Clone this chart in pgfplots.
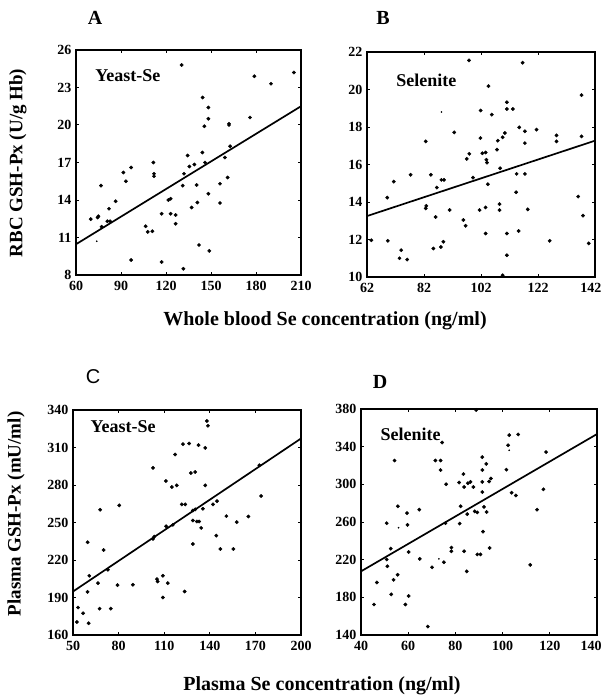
\documentclass[border=0pt]{standalone}
\usepackage{fontspec}
\setmainfont{Liberation Serif}
\newfontfamily\sansf{Liberation Sans}
\usepackage{pgfplots}
\pgfplotsset{compat=1.18}

\pgfplotsset{
  panel/.style={
    scale only axis, anchor=south west,
    axis line style={line width=1.5pt},
    tick align=inside, major tick length=3pt,
    tick style={line width=1pt,black},
    tick label style={font=\fontsize{14}{14}\selectfont\bfseries},
    xticklabel style={yshift=-3pt},
    yticklabel style={xshift=-1pt},
    /pgf/number format/assume math mode=true,
    scaled ticks=false, clip=false,
  },
  dots/.style={only marks, mark=*, mark size=1.7pt, color=black},
  fit/.style={no marks, line width=1.7pt, color=black},
}

\begin{document}
\begin{tikzpicture}
\useasboundingbox (0,0) rectangle (605pt,-698pt);

% A: RBC GSH-Px vs whole blood Se, yeast-Se
\begin{axis}[panel, at={(76pt,-275pt)}, width=225pt, height=225pt,
  xmin=60, xmax=210, ymin=8, ymax=26,
  xtick={60,90,...,210}, ytick={8,11,...,26}]
\addplot[dots] coordinates {
(69.8,12.47)(74.4,12.6)(74.9,12.7)(76.7,15.15)(77.1,11.86)(82,13.3)(80.9,12.3)(82.7,12.3)
(86.4,13.9)(91.6,16.2)(93.3,15.5)(96.7,16.6)(96.7,9.2)(106.4,11.9)(107.8,11.45)(110.9,11.5)
(111.6,17.0)(112,16.1)(112,15.9)(117.1,12.9)(117.1,9.04)(121.6,14.0)(123.1,14.1)(123.1,12.9)
(126.4,12.8)(126.4,12.1)(130.4,24.8)(131.1,15.15)(132,16.1)(131.6,8.5)(134.4,17.56)(135.6,16.68)
(138.9,16.84)(137.1,13.4)(140.4,15.2)(140.9,13.8)(142,10.4)(144.2,17.8)(144.4,22.2)(145.6,19.9)
(146,17.0)(148.2,21.4)(148.2,20.5)(148.2,14.5)(148.9,9.93)(156,13.76)(156,15.3)(159.3,17.4)
(161.1,15.8)(162,20.1)(162,20.0)(162.7,18.3)(176,20.6)(178.9,23.9)(190,23.3)(205.3,24.2)};
\addplot[only marks, mark=*, mark size=0.6pt] coordinates {(73.8,10.7)};
\addplot[fit] coordinates {(60,10.46)(210,21.5)};
\node[font=\fontsize{18}{18}\selectfont\bfseries] at (rel axis cs:0.23,0.885) {Yeast-Se};
\end{axis}

% B: selenite
\begin{axis}[panel, at={(367pt,-277pt)}, width=228pt, height=225pt,
  xmin=62, xmax=142, ymin=10, ymax=22,
  xtick={62,82,...,142}, ytick={10,12,...,22},
  xticklabels={62,82,102,122,{\hspace*{-8pt}142}}]
\addplot[dots] coordinates {
(63.5,11.96)(69.1,14.23)(69.3,11.93)(71.4,15.09)(73.4,11.0)(74,11.43)(76.1,10.93)(77.3,15.45)
(82.6,17.23)(82.6,13.66)(82.8,13.79)(84.4,15.45)(85.3,11.52)(86.1,13.2)(86.5,14.77)(87.9,11.6)
(88.1,15.18)(89,15.18)(88.8,11.88)(91,13.57)(92.6,17.71)(95.8,13.04)(96.6,12.73)(97,16.3)
(97.9,16.57)(97.8,21.55)(99.2,15.3)(101.5,13.57)(101.8,17.41)(101.9,18.88)(102.5,16.6)(103.6,16.64)
(103.9,16.25)(104.1,16.1)(103.6,13.71)(103.6,12.32)(104.4,14.95)(104.6,20.18)(105.8,18.66)(107.6,16.79)
(107.9,17.27)(108.7,15.8)(108.5,13.89)(108.5,13.57)(109.6,17.45)(110.4,17.68)(109.6,10.09)(111.1,19.32)
(111.1,18.96)(113.2,18.96)(111.1,12.32)(111.1,11.16)(114.3,14.52)(114.5,15.5)(115.2,12.45)(115.4,17.98)
(116.6,21.43)(117.4,17.77)(117.4,17.14)(117.4,15.5)(118.4,13.61)(121.5,17.86)(126.1,11.93)(128.5,17.55)
(128.5,17.23)(136.1,14.29)(137.3,19.7)(137.3,17.5)(137.8,13.27)(139.8,11.79)};
\addplot[only marks, mark=*, mark size=0.6pt] coordinates {(88.1,18.8)};
\addplot[fit] coordinates {(62,13.25)(142,17.27)};
\node[font=\fontsize{18}{18}\selectfont\bfseries] at (rel axis cs:0.26,0.876) {Selenite};
\end{axis}

% C: plasma GSH-Px vs plasma Se, yeast-Se
\begin{axis}[panel, at={(73pt,-635pt)}, width=228pt, height=225pt,
  xmin=50, xmax=200, ymin=160, ymax=340,
  xtick={50,80,...,200}, ytick={160,190,...,340}]
\addplot[dots] coordinates {
(53.3,182)(52.6,170.4)(56.6,177.4)(59.6,234.2)(59.6,194.5)(60.3,169.4)(60.7,207.4)(66.4,201.5)
(67.9,260.2)(67.5,181.1)(70.1,228)(72.9,212.2)(74.9,181.1)(79.3,199.9)(80.4,263.7)(89.4,200.2)
(102.6,236.9)(102.6,293.7)(103.5,238.7)(105.2,204.7)(105.7,202.8)(109.1,207.4)(109.1,190)(111.1,283.2)
(111.3,247)(112.4,201.5)(115,278.4)(115.7,248.1)(118.3,279.7)(117.2,304.4)(121.6,264.5)(123.8,264.5)
(123.4,194.8)(122.3,312.7)(126.4,313.2)(127.5,289.6)(130.4,290.4)(128.9,259.6)(128.9,251.6)(128.9,232.8)
(130.4,260.5)(131.5,250.8)(133,250.8)(132.6,311.9)(134.3,245.7)(135.4,261)(137,309.7)(137,279.7)
(138.1,331.2)(138.8,327.4)(142.1,264.5)(144.7,267.1)(144.3,239.5)(146.9,228.8)(150.9,255.1)(155.5,228.8)
(157.7,250.3)(165.4,254.8)(172.6,295.8)(173.7,271.2)};
\addplot[fit] coordinates {(50,194.8)(200,317.2)};
\node[font=\fontsize{18}{18}\selectfont\bfseries] at (rel axis cs:0.22,0.924) {Yeast-Se};
\end{axis}

% D: selenite
\begin{axis}[panel, at={(361pt,-635pt)}, width=236pt, height=226pt,
  xmin=40, xmax=140, ymin=140, ymax=380,
  xtick={40,60,...,140}, ytick={140,180,...,380},
  xticklabels={40,60,80,100,120,{\hspace*{-12pt}140}}]
\addplot[dots] coordinates {
(45.5,172.4)(46.7,195.8)(50.9,258.7)(50.9,220.2)(51.2,213)(52.6,231.7)(52.8,183.2)(53.8,198.6)
(54.2,325.3)(55.5,204)(55.6,276.7)(58.8,172.4)(59.5,269.5)(59.7,256.9)(60.2,181.4)(60.2,228.1)
(64.7,273.1)(64.9,220.9)(68.3,149)(70.1,211.9)(71.5,325.3)(73.7,325.3)(73.7,315.2)(74.4,344.4)
(75.1,217.3)(76.1,300.1)(75.8,258.7)(78.3,232.8)(78.3,228.9)(81.6,301.9)(81.8,258.3)(82.2,276.7)
(83.4,310.9)(83.7,297.2)(83.7,228.9)(84.8,207.6)(85,268.4)(85.3,301.2)(86.4,302.6)(87.6,297.2)
(88.2,271.3)(89.3,270.2)(88.8,379)(89.3,225.6)(90.6,225.6)(91.4,328.9)(91.4,315.2)(91.4,302.6)
(91.4,291.8)(91.7,249.7)(92.1,276)(93.1,321.7)(93.2,270.6)(94.3,303)(95,306.2)(94.5,232.5)
(101.6,315.6)(102.3,341.5)(102.8,352.3)(103.8,291.1)(105.6,288.2)(106.6,353)(111.7,214.5)(114.6,273.1)
(117.3,294.7)(118.4,334.3)};
\addplot[only marks, mark=*, mark size=0.6pt] coordinates {(55.9,254)(73,220.9)(102.8,336.1)};
\addplot[fit] coordinates {(40,207.6)(140,353.4)};
\node[font=\fontsize{18}{18}\selectfont\bfseries] at (rel axis cs:0.21,0.89) {Selenite};
\end{axis}

% panel letters and shared axis titles
\node[font=\fontsize{20}{20}\selectfont\bfseries] at (95pt,-18pt) {A};
\node[font=\fontsize{20}{20}\selectfont\bfseries] at (383pt,-18pt) {B};
\node[font=\fontsize{20}{20}\selectfont\sansf] at (93pt,-377pt) {C};
\node[font=\fontsize{20}{20}\selectfont\bfseries] at (380pt,-382pt) {D};
\node[font=\fontsize{19}{19}\selectfont\bfseries, rotate=90] at (18pt,-163pt) {RBC GSH-Px (U/g Hb)};
\node[font=\fontsize{19}{19}\selectfont\bfseries, rotate=90] at (16pt,-514pt) {Plasma GSH-Px (mU/ml)};
\node[font=\fontsize{20}{20}\selectfont\bfseries] at (325pt,-321pt) {Whole blood Se concentration (ng/ml)};
\node[font=\fontsize{20}{20}\selectfont\bfseries] at (322pt,-686pt) {Plasma Se concentration (ng/ml)};
\end{tikzpicture}
\end{document}
